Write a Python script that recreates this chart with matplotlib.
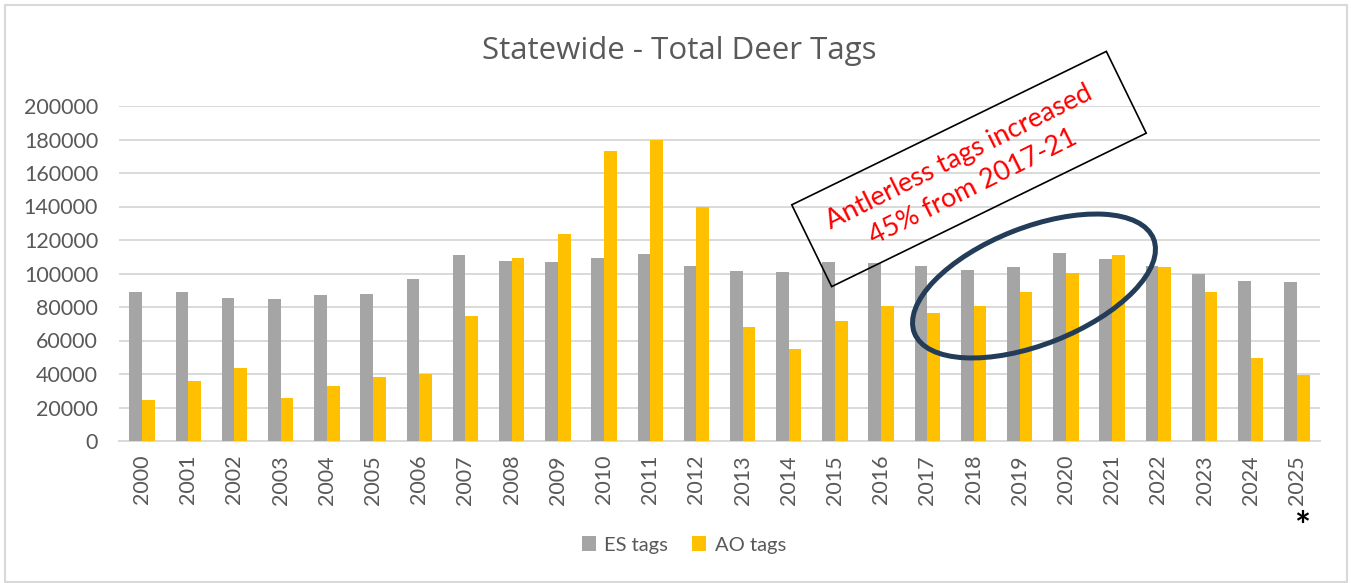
import matplotlib
matplotlib.use("Agg")
import matplotlib.pyplot as plt
from matplotlib.patches import Rectangle, Ellipse
from matplotlib.transforms import Affine2D
import numpy as np

plt.rcParams['font.family'] = ['Lato', 'DejaVu Sans']

years = ["2000", "2001", "2002", "2003", "2004", "2005", "2006", "2007", "2008",
         "2009", "2010", "2011", "2012", "2013", "2014", "2015", "2016", "2017",
         "2018", "2019", "2020", "2021", "2022", "2023", "2024", "2025"]
es_tags = [89200, 89200, 85600, 84800, 87000, 87800, 97000, 110900, 107700,
           106900, 109300, 111600, 104700, 101700, 100900, 106900, 106300, 104700,
           102300, 103900, 112200, 108500, 104500, 99500, 95500, 94800]
ao_tags = [24300, 35600, 43400, 25900, 32700, 38000, 40200, 74900, 109300,
           123800, 173000, 179700, 139900, 67900, 54900, 71900, 80800, 76200,
           80800, 89200, 100100, 110900, 103900, 88800, 49600, 39600]
yticks = [0, 20000, 40000, 60000, 80000, 100000, 120000, 140000, 160000, 180000, 200000]
title = "Statewide - Total Deer Tags"
series_names = ["ES tags", "AO tags"]
note_text = "Antlerless tags increased\n45% from 2017-21"

W, H = 1351, 583
fig = plt.figure(figsize=(W / 100, H / 100), dpi=100)
fig.patch.set_facecolor('white')

ax = fig.add_axes([119 / W, 1 - 441 / H, (1320 - 119) / W, (441 - 106) / H])
x = np.arange(len(years))
bw = 0.275
grey = '#A5A5A5'
gold = '#FFC000'
b1 = ax.bar(x - bw / 2, es_tags, bw, color=grey, label=series_names[0], zorder=3)
b2 = ax.bar(x + bw / 2, ao_tags, bw, color=gold, label=series_names[1], zorder=3)

ax.set_xlim(-0.5, len(years) - 0.5)
ax.set_ylim(0, 200000)
ax.set_yticks(yticks)
ax.set_yticklabels([str(v) for v in yticks])
ax.set_xticks(x)
ax.set_xticklabels(years, rotation=90)
ax.tick_params(axis='y', length=0, pad=15, labelsize=15.5, labelcolor='#595959')
ax.tick_params(axis='x', length=0, pad=10, labelsize=15.5, labelcolor='#595959')
for s in ['top', 'right', 'left']:
    ax.spines[s].set_visible(False)
ax.spines['bottom'].set_color('#D9D9D9')
ax.spines['bottom'].set_linewidth(1.4)
ax.grid(axis='y', color='#D9D9D9', linewidth=1.4, zorder=0)
ax.set_axisbelow(True)

fig.text(679 / W, 1 - 51 / H, title, ha='center', va='center', fontsize=22.5,
         color='#595959', family=['Open Sans', 'DejaVu Sans'])

leg = fig.legend(handles=[b1, b2], labels=series_names, loc='center', bbox_to_anchor=(684 / W, 1 - 545 / H),
                 ncol=2, frameon=False, fontsize=14.5, handlelength=0.7, handleheight=0.7,
                 handletextpad=0.4, columnspacing=1.2)
for t in leg.get_texts():
    t.set_color('#595959')

# asterisk under 2025
fig.text(1302 / W, 1 - 528 / H, "*", ha='center', va='center', fontsize=27, fontweight='bold', color='black')

# annotation box and text (figure pixel coords)
pix = Affine2D().scale(1 / W, 1 / H) + fig.transFigure
cx, cy = 969, H - 169
bwid, bhei = 350, 91
rect = Rectangle((cx - bwid / 2, cy - bhei / 2), bwid, bhei, angle=26, rotation_point='center',
                 fill=False, edgecolor='black', linewidth=1.2, transform=pix, zorder=10)
fig.add_artist(rect)
fig.text(966 / W, 1 - 172 / H, note_text, ha='center', va='center', rotation=26.5,
         rotation_mode='anchor', multialignment='center', color='#FF0000', fontsize=19.5,
         linespacing=1.4, zorder=11)

ell = Ellipse((1034, H - 286), 257, 117, angle=21.5, fill=False, edgecolor='#233D58',
              linewidth=3.6, transform=pix, zorder=10)
fig.add_artist(ell)

# chart border
border = Rectangle((5, 1), W - 9, H - 6, fill=False, edgecolor='#D9D9D9', linewidth=1.5,
                   transform=pix, zorder=0)
fig.add_artist(border)

fig.savefig('out.png', dpi=100)
